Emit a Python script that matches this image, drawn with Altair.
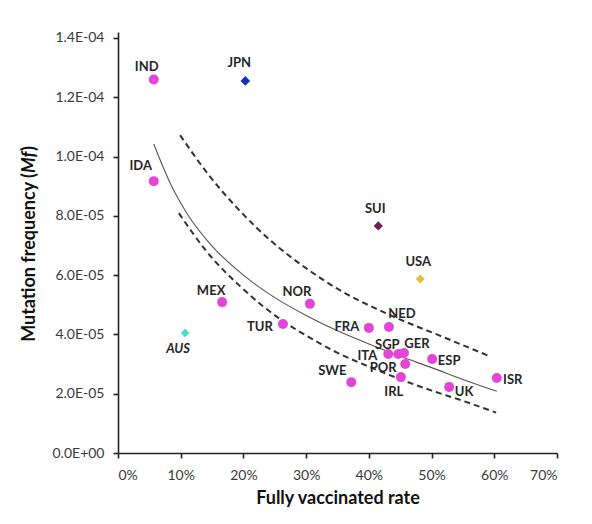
import altair as alt
import pandas as pd

# ---- data ----
countries = ["IND", "JPN", "IDA", "SUI", "USA", "MEX", "NOR", "TUR", "AUS", "FRA",
             "NED", "ITA", "SGP", "GER", "POR", "ESP", "IRL", "SWE", "UK", "ISR"]
vacc_pct = [5.7, 20.3, 5.7, 41.5, 48.2, 16.6, 30.6, 26.3, 10.7, 40.0,
            43.2, 43.1, 44.7, 45.6, 45.8, 50.1, 45.1, 37.2, 52.8, 60.4]
mf_e5 = [12.6, 12.55, 9.17, 7.66, 5.87, 5.09, 5.03, 4.35, 4.05, 4.22,
         4.25, 3.34, 3.34, 3.37, 3.00, 3.17, 2.56, 2.39, 2.23, 2.53]

fit_x = [5.7, 8.5, 11, 15, 20, 25, 30, 35, 40, 45, 50, 55, 60.4]
fit_y = [10.42, 9.02, 8.08, 6.98, 6.00, 5.24, 4.64, 4.12, 3.68, 3.26, 2.88, 2.48, 2.08]
upper_x = [9.9, 14.2, 19.5, 24.7, 30.2, 34.9, 43.4, 51.4, 59.3]
upper_y = [10.72, 9.45, 8.15, 7.10, 6.20, 5.55, 4.65, 3.95, 3.26]
lower_x = [9.7, 14.2, 19.5, 26.3, 30.1, 35, 40.5, 45, 49.8, 55, 60.3]
lower_y = [8.09, 6.78, 5.62, 4.45, 3.95, 3.38, 2.87, 2.49, 2.12, 1.76, 1.36]

x_ticks = [0, 0.1, 0.2, 0.3, 0.4, 0.5, 0.6, 0.7]
y_ticks = [0, 2e-5, 4e-5, 6e-5, 8e-5, 1e-4, 1.2e-4, 1.4e-4]

# ---- styles ----
special = ["JPN", "SUI", "USA", "AUS"]
group_domain = ["main", "JPN", "SUI", "USA", "AUS"]
group_colors = ["#e346d6", "#1b2fb8", "#6e1f5a", "#e3c33a", "#45e0cc"]
group_shapes = ["circle", "diamond", "diamond", "diamond", "diamond"]
group_sizes = [100, 75, 75, 85, 75]

label_offsets = {
    "IND": (-7, -12), "JPN": (-6, -18), "IDA": (-13, -15), "SUI": (-3, -17),
    "USA": (-2, -17), "MEX": (-11, -11), "NOR": (-13, -12), "TUR": (-23, 3),
    "AUS": (-7, 16), "FRA": (-22, -1), "NED": (13, -13), "ITA": (-21, 2),
    "SGP": (-11, -9), "GER": (13, -9), "POR": (-22, 4), "ESP": (17, 2),
    "IRL": (-7, 15), "SWE": (-19, -11), "UK": (15, 5), "ISR": (16, 2),
}

pts = pd.DataFrame({
    "country": countries,
    "rate": [v / 100 for v in vacc_pct],
    "mf": [m * 1e-5 for m in mf_e5],
    "group": [c if c in special else "main" for c in countries],
})

lines = pd.concat([
    pd.DataFrame({"curve": "fit", "rate": [v / 100 for v in fit_x], "mf": [m * 1e-5 for m in fit_y]}),
    pd.DataFrame({"curve": "upper", "rate": [v / 100 for v in upper_x], "mf": [m * 1e-5 for m in upper_y]}),
    pd.DataFrame({"curve": "lower", "rate": [v / 100 for v in lower_x], "mf": [m * 1e-5 for m in lower_y]}),
])

FONT = "Lato"

x_enc = alt.X("rate:Q",
              scale=alt.Scale(domain=[0, 0.7], nice=False),
              axis=alt.Axis(values=x_ticks, format=".0%", title="Fully vaccinated rate",
                            labelPadding=10, titlePadding=7))
y_enc = alt.Y("mf:Q",
              scale=alt.Scale(domain=[0, 1.42e-4], nice=False),
              axis=alt.Axis(values=y_ticks, title=None, labelPadding=9,
                            labelExpr="replace(replace(format(datum.value, '.1e'), 'e-', 'E-0'), 'e+', 'E+0')"))

fit_layer = alt.Chart(lines).transform_filter(alt.datum.curve == "fit").mark_line(
    color="#555555", strokeWidth=1.1, interpolate="monotone"
).encode(x=x_enc, y=y_enc)

band_layer = alt.Chart(lines).transform_filter(alt.datum.curve != "fit").mark_line(
    color="#333333", strokeWidth=2, strokeDash=[6, 4], interpolate="monotone"
).encode(x="rate:Q", y="mf:Q", detail="curve:N")

point_layer = alt.Chart(pts).mark_point(filled=True, opacity=1).encode(
    x="rate:Q", y="mf:Q",
    color=alt.Color("group:N", scale=alt.Scale(domain=group_domain, range=group_colors), legend=None),
    shape=alt.Shape("group:N", scale=alt.Scale(domain=group_domain, range=group_shapes), legend=None),
    size=alt.Size("group:N", scale=alt.Scale(domain=group_domain, range=group_sizes), legend=None),
)

label_layers = []
for c in countries:
    dx, dy = label_offsets[c]
    label_layers.append(
        alt.Chart(pts).transform_filter(alt.datum.country == c).mark_text(
            font=FONT, fontSize=13, fontWeight="bold",
            fontStyle="italic" if c == "AUS" else "normal",
            color="#262626", align="center", baseline="middle", dx=dx, dy=dy
        ).encode(x="rate:Q", y="mf:Q", text="country:N")
    )

one = pd.DataFrame({"k": [0]})
title_kw = dict(font=FONT, fontSize=18, fontWeight="bold", color="#111111",
                angle=270, baseline="middle")
ytitle_a = alt.Chart(one).mark_text(text="Mutation frequency (", align="right", **title_kw).encode(
    x=alt.value(-88), y=alt.value(141))
ytitle_b = alt.Chart(one).mark_text(text="Mf", align="left", fontStyle="italic", **title_kw).encode(
    x=alt.value(-88), y=alt.value(141))
ytitle_c = alt.Chart(one).mark_text(text=")", align="left", **title_kw).encode(
    x=alt.value(-88), y=alt.value(119))

chart = alt.layer(
    fit_layer, band_layer, point_layer, *label_layers, ytitle_a, ytitle_b, ytitle_c
).properties(
    width=439, height=421,
    autosize=alt.AutoSizeParams(type="none"),
    padding={"left": 110, "top": 24, "right": 20, "bottom": 60},
).configure_view(stroke=None).configure_axis(
    grid=False, domainColor="#222222", domainWidth=1.6, tickColor="#222222",
    tickWidth=1.6, tickSize=5, labelColor="#3a3a3a", labelFont=FONT, labelFontSize=14,
    titleFont=FONT, titleFontSize=18, titleFontWeight="bold", titleColor="#111111",
)

chart.save("out.html", embed_options={"renderer": "svg", "actions": False})
